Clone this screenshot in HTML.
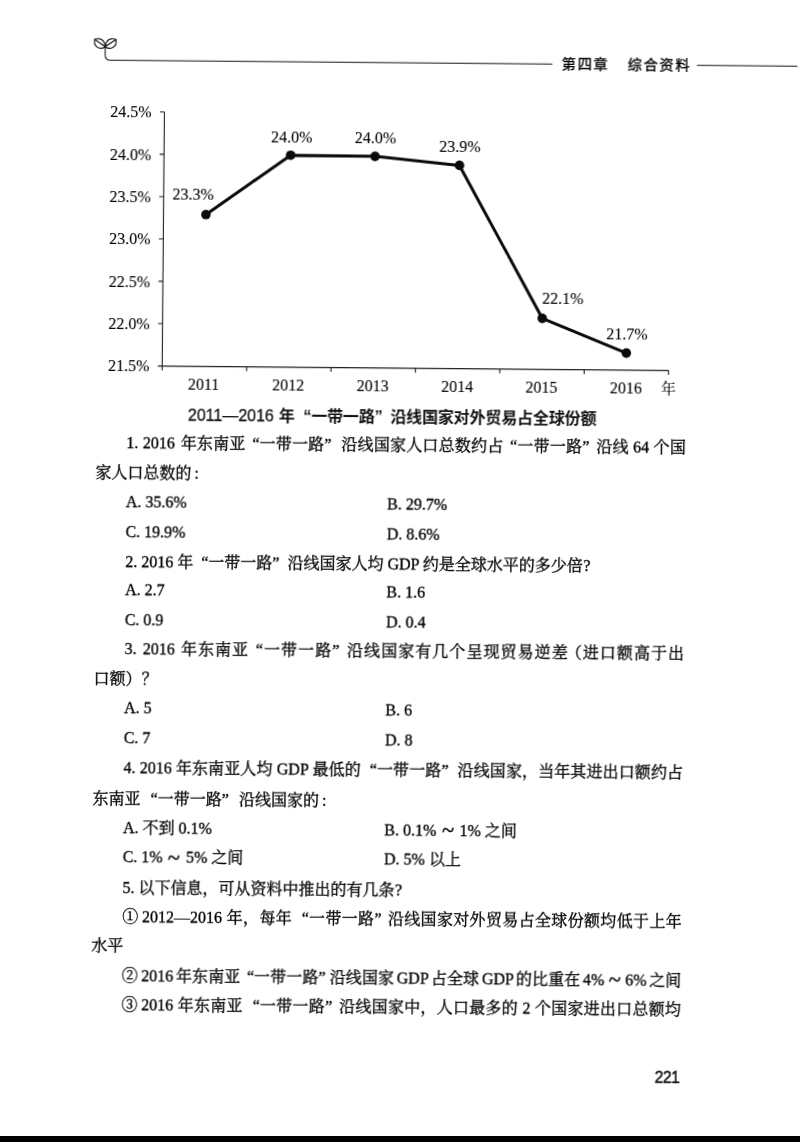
<!DOCTYPE html>
<html lang="zh-CN">
<head>
<meta charset="utf-8">
<title>第四章 综合资料 221</title>
<style>
html,body{margin:0;padding:0;background:#fff;}
body{width:800px;height:1142px;overflow:hidden;position:relative;font-family:"Liberation Serif","Noto Serif CJK SC",serif;color:#111;}
#page{position:absolute;left:0;top:0;width:800px;height:1142px;transform-origin:0 0;transform:rotate(0.5deg);will-change:transform;}
#bar{position:absolute;left:0;top:1136px;width:800px;height:6px;background:#000;}
#deco,#chart{position:absolute;left:0;top:0;overflow:visible;}
svg text{font-family:"Liberation Serif","Noto Serif CJK SC",serif;fill:#000;stroke:#000;stroke-width:0.1px;}
.l{color:#000;-webkit-text-stroke:0.34px #000;position:absolute;height:30px;line-height:30px;font-size:16px;white-space:nowrap;letter-spacing:0;}
.j{left:130.2px;width:559.6px;text-align:justify;text-align-last:justify;letter-spacing:0;word-spacing:calc(var(--s,0px) + var(--ws,0px));}
.p{left:99.6px;}
.a{left:130.2px;}
.b{left:391.5px;}
.lq{padding-left:var(--ql,6.7px);}
.rq{padding-right:var(--qr,6.7px);}
.sq{--ql:4px;--qr:4px;}
.wq{--ql:8px;--qr:8px;}
.cn{margin-left:0;margin-right:3.5px;}
.pl{margin-left:-3px;}
.ep{margin-left:0.5px;}
.ec{margin-left:3px;}
.td{display:inline-block;transform:scale(1.38,1.25);margin:0 3.3px;position:relative;top:0.5px;}
.h{font-family:"Liberation Sans","Noto Sans CJK SC",sans-serif;}
#cap{left:191.5px;font-weight:bold;font-size:16px;letter-spacing:-0.15px;-webkit-text-stroke:0;color:#111;}
#cap .n{font-size:16px;font-weight:normal;letter-spacing:0;-webkit-text-stroke:0.3px #111;margin-right:5.1px;}
#cap .lq{padding-left:8.6px;}
#cap .rq{padding-right:7.8px;}
#hd1,#hd2{font-size:14.2px;letter-spacing:1.7px;}
#pn{font-weight:normal;font-size:15.6px;letter-spacing:-0.45px;-webkit-text-stroke:0.45px #111;color:#111;}
</style>
</head>
<body>
<div id="page">

<svg id="deco" width="800" height="1142" viewBox="0 0 800 1142">
  <g fill="none" stroke="#141414" stroke-width="1.15" stroke-linecap="round" stroke-linejoin="round">
    <!-- stem + header rule -->
    <path d="M105.65 42.8 L105.65 54 Q105.65 59.3 111 59.3 L552.5 59.3" stroke-width="1.05"/>
    <path d="M698 59.3 L797.6 59.3" stroke-width="1.05"/>
    <!-- left leaf -->
    <path d="M95.1 38.3 C98 37.2 102 37.6 103.9 40.4 C105 42 105.4 44 105.65 45.7 C103.5 47.6 100.5 47.8 98 46.5 C95.5 45 94.4 41.5 95.1 38.3 Z"/>
    <path d="M95.4 38.7 L105.65 45.7"/>
    <!-- right leaf -->
    <path d="M116.2 38.3 C113.3 37.2 109.3 37.6 107.4 40.4 C106.3 42 105.9 44 105.65 45.7 C107.8 47.6 110.8 47.8 113.3 46.5 C115.8 45 116.9 41.5 116.2 38.3 Z"/>
    <path d="M115.9 38.7 L105.65 45.7"/>
  </g>
</svg>

<div class="l h" id="hd1" style="left:562.3px;top:44.2px;">第四章</div>
<div class="l h" id="hd2" style="left:628.3px;top:44.2px;">综合资料</div>

<svg id="chart" width="800" height="1142" viewBox="0 0 800 1142">
  <g stroke="#222" stroke-width="1.1" fill="none">
    <path d="M165.4 110.5 L165.4 364.6 L671.7 364.6"/>
    <path d="M161 110.5H165.4 M161 152.85H165.4 M161 195.2H165.4 M161 237.55H165.4 M161 279.9H165.4 M161 322.25H165.4 M161 364.6H165.4"/>
    <path d="M165.4 364.6V369 M249.8 364.6V369 M334.2 364.6V369 M418.6 364.6V369 M503 364.6V369 M587.4 364.6V369 M671.7 364.6V369"/>
  </g>
  <polyline points="207.8,212.8 292,152.7 376.4,153.1 460.9,161.4 545,313.6 629.4,347.6" fill="none" stroke="#0a0a0a" stroke-width="3" stroke-linejoin="round"/>
  <g fill="#0a0a0a">
    <circle cx="207.8" cy="212.8" r="4.8"/><circle cx="292" cy="152.7" r="4.8"/><circle cx="376.4" cy="153.1" r="4.8"/>
    <circle cx="460.9" cy="161.4" r="4.8"/><circle cx="545" cy="313.6" r="4.8"/><circle cx="629.4" cy="347.6" r="4.8"/>
  </g>
  <g font-size="16" text-anchor="end">
    <text x="152.7" y="116.2">24.5%</text>
    <text x="152.7" y="158.5">24.0%</text>
    <text x="152.7" y="200.9">23.5%</text>
    <text x="152.7" y="243.2">23.0%</text>
    <text x="152.7" y="285.6">22.5%</text>
    <text x="152.7" y="327.9">22.0%</text>
    <text x="152.7" y="370.2">21.5%</text>
  </g>
  <g font-size="16" text-anchor="middle">
    <text x="194.9" y="198.1">23.3%</text>
    <text x="292.8" y="139.6">24.0%</text>
    <text x="376.7" y="139.6">24.0%</text>
    <text x="461.1" y="148">23.9%</text>
    <text x="565.4" y="299.3">22.1%</text>
    <text x="629.8" y="333.7">21.7%</text>
    <text x="206.9" y="388">2011</text>
    <text x="291.6" y="388">2012</text>
    <text x="376" y="388">2013</text>
    <text x="460.4" y="388">2014</text>
    <text x="544.8" y="388">2015</text>
    <text x="629.3" y="388">2016</text>
  </g>
  <text x="664.2" y="387.9" font-size="15">年</text>
</svg>

<div class="l h" id="cap" style="top:398.6px;"><span class="n">2011—2016</span>年<span class="lq">“</span>一带一路<span class="rq">”</span>沿线国家对外贸易占全球份额</div>

<div class="l j" style="top:427.2px;--s:0.269px;">1. 2016<span style="margin-left:1.5px"> </span>年东南亚<span class="lq">“</span>一带一路<span class="rq" style="padding-right:9.7px">”</span>沿线国家人口总数约占<span class="lq">“</span>一带一路<span class="rq">”</span>沿线 64 个国</div>
<div class="l p" style="top:457px;">家人口总数的<span class="ec">:</span></div>
<div class="l a" style="top:486px;">A. 35.6%</div><div class="l b" style="top:486px;">B. 29.7%</div>
<div class="l a" style="top:515.5px;">C. 19.9%</div><div class="l b" style="top:515.5px;">D. 8.6%</div>
<div class="l a wq" style="top:545.5px;">2. 2016 年<span class="lq">“</span>一带一路<span class="rq">”</span>沿线国家人均 GDP 约是全球水平的多少倍<span class="ep">?</span></div>
<div class="l a" style="top:574.3px;">A. 2.7</div><div class="l b" style="top:574.3px;">B. 1.6</div>
<div class="l a" style="top:603.5px;">C. 0.9</div><div class="l b" style="top:603.5px;">D. 0.4</div>
<div class="l j" style="top:633px;--s:1.203px;">3. 2016 年东南亚<span class="lq">“</span>一带一路<span class="rq">”</span>沿线国家有几个呈现贸易逆差<span class="pl">（</span>进口额高于出</div>
<div class="l p" style="top:662.5px;">口额）？</div>
<div class="l a" style="top:692.3px;">A. 5</div><div class="l b" style="top:692.3px;">B. 6</div>
<div class="l a" style="top:721.8px;">C. 7</div><div class="l b" style="top:721.8px;">D. 8</div>
<div class="l j" style="top:752.3px;--ql:9px;--qr:9px;--s:0.128px;">4. 2016 年东南亚人均 GDP 最低的<span class="lq">“</span>一带一路<span class="rq">”</span>沿线国家，当年其进出口额约占</div>
<div class="l p" style="top:782.5px;--ql:10px;--qr:10.2px;">东南亚<span class="lq">“</span>一带一路<span class="rq">”</span>沿线国家的<span class="ec">:</span></div>
<div class="l a" style="top:811.8px;">A. 不到 0.1%</div><div class="l b" style="top:811.8px;">B. 0.1% <span class="td">~</span> 1% 之间</div>
<div class="l a" style="top:841px;">C. 1% <span class="td">~</span> 5% 之间</div><div class="l b" style="top:841px;">D. 5% 以上</div>
<div class="l a" style="top:871.5px;">5. 以下信息，可从资料中推出的有几条<span class="ep">?</span></div>
<div class="l j" style="top:901px;--ql:9.5px;--qr:6px;--s:0.376px;"><span class="cn">①</span>2012—2016 年，每年<span class="lq">“</span>一带一路<span class="rq">”</span>沿线国家对外贸易占全球份额均低于上年</div>
<div class="l p" style="top:929.5px;">水平</div>
<div class="l j" style="top:959.8px;--ws:-1.5px;--ql:6.5px;--qr:4px;--s:0.121px;"><span class="cn">②</span>2016 年东南亚<span class="lq">“</span>一带一路<span class="rq">”</span>沿线国家 GDP 占全球 GDP 的比重在 4% <span class="td">~</span> 6% 之间</div>
<div class="l j" style="top:989.3px;--ql:10px;--s:0.286px;"><span class="cn">③</span>2016 年东南亚<span class="lq">“</span>一带一路<span class="rq">”</span>沿线国家中，人口最多的 2 个国家进出口总额均</div>

<div class="l h" id="pn" style="left:664px;top:1057px;">221</div>

</div>
<div id="bar"></div>
</body>
</html>
